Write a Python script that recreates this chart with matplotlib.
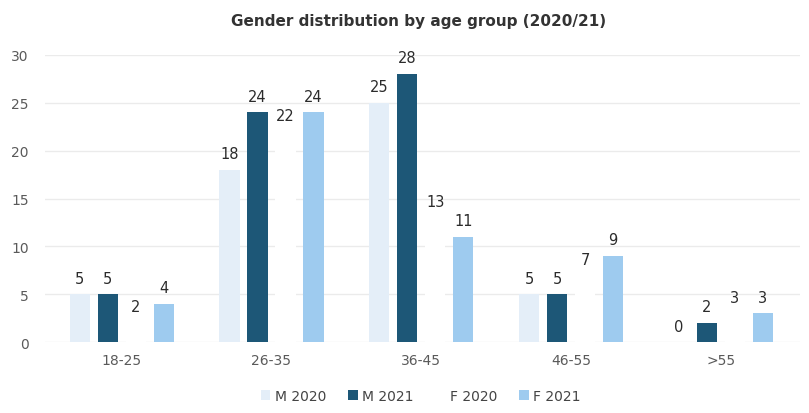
import numpy as np
import matplotlib.pyplot as plt

grupos = ['18-25', '26-35', '36-45', '46-55', '>55']
series = ['M 2020', 'M 2021', 'F 2020', 'F 2021']
m_2020 = [5, 18, 25, 5, 0]
m_2021 = [5, 24, 28, 5, 2]
f_2020 = [2, 22, 13, 7, 3]
f_2021 = [4, 24, 11, 9, 3]

colores = ['#e4eef8', '#1d5777', '#ffffff', '#9ecbef']

plt.rcParams.update({
    'font.family': 'DejaVu Sans',
    'font.size': 10,
})

fig = plt.figure(figsize=(8.09, 4.14), dpi=100)
ax = fig.add_axes([0.056, 0.171, 0.933, 0.694])

x = np.arange(len(grupos))
paso = 0.187
ancho = 0.135
desplaz = [-1.5, -0.5, 0.5, 1.5]

for i, (nombre, vals) in enumerate(zip(series, [m_2020, m_2021, f_2020, f_2021])):
    pos = x + desplaz[i] * paso
    ax.bar(pos, vals, width=ancho, color=colores[i], label=nombre, zorder=2)
    for p, v in zip(pos, vals):
        ax.text(p, v + 0.9, str(v), ha='center', va='bottom', fontsize=10.5,
                color='#2b2b2b', clip_on=False)

ax.set_xlim(-0.51, 4.53)
ax.set_ylim(0, 30)
ax.set_yticks(range(0, 31, 5))
ax.set_xticks(x)
ax.set_xticklabels(grupos)
ax.tick_params(axis='both', length=0, colors='#5a5a5a', labelsize=10)
ax.tick_params(axis='y', pad=12)
ax.tick_params(axis='x', pad=8)
ax.yaxis.grid(True, color='#ebebeb', linewidth=1)
ax.set_axisbelow(True)
for s in ax.spines.values():
    s.set_visible(False)

fig.suptitle('Gender distribution by age group (2020/21)', fontsize=11,
             fontweight='bold', color='#333333', x=0.518, y=0.965)

fig.legend(loc='lower center', ncol=4, frameon=False, fontsize=10,
           bbox_to_anchor=(0.52, -0.005), handlelength=0.7, handleheight=0.7,
           handletextpad=0.3, columnspacing=1.6, labelcolor='#444444')

fig.savefig('out.png', dpi=100)
